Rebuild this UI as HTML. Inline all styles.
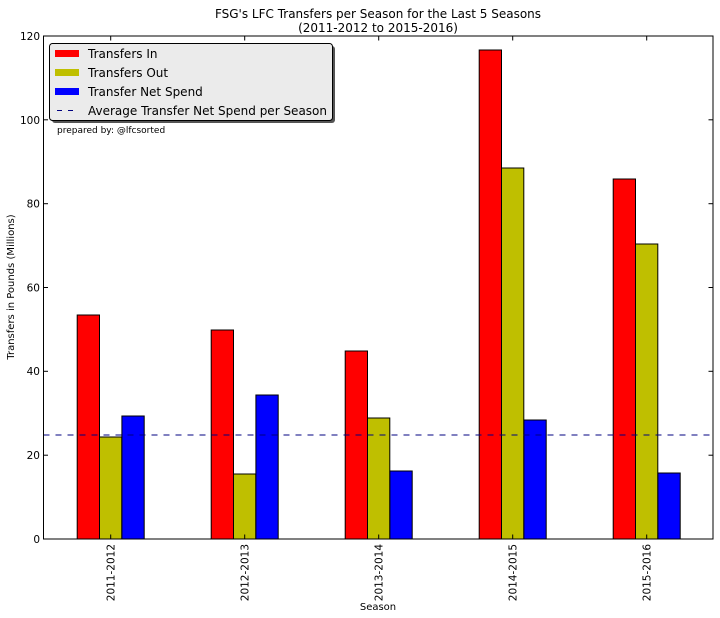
<!DOCTYPE html>
<html><head><meta charset="utf-8"><style>
body{margin:0;background:#fff;}
svg{display:block;font-family:"DejaVu Sans","Liberation Sans",sans-serif;}
</style></head><body>
<svg width="720" height="618" viewBox="0 0 720 618" xmlns="http://www.w3.org/2000/svg">
<rect width="720" height="618" fill="#fff"/>
<text x="378" y="18" font-size="12" text-anchor="middle">FSG's LFC Transfers per Season for the Last 5 Seasons</text>
<text x="378" y="32" font-size="12" text-anchor="middle">(2011-2012 to 2015-2016)</text>
<g stroke="#000" stroke-width="1">
<rect x="77.2" y="315" width="22.3" height="224" fill="#f00"/>
<rect x="99.5" y="437" width="22.3" height="102" fill="#bfbf00"/>
<rect x="121.9" y="416" width="22.3" height="123" fill="#00f"/>
<rect x="211.2" y="330" width="22.3" height="209" fill="#f00"/>
<rect x="233.5" y="474" width="22.3" height="65" fill="#bfbf00"/>
<rect x="255.9" y="395" width="22.3" height="144" fill="#00f"/>
<rect x="345.2" y="351" width="22.3" height="188" fill="#f00"/>
<rect x="367.5" y="418" width="22.3" height="121" fill="#bfbf00"/>
<rect x="389.9" y="471" width="22.3" height="68" fill="#00f"/>
<rect x="479.2" y="50" width="22.3" height="489" fill="#f00"/>
<rect x="501.5" y="168" width="22.3" height="371" fill="#bfbf00"/>
<rect x="523.9" y="420" width="22.3" height="119" fill="#00f"/>
<rect x="613.2" y="179" width="22.3" height="360" fill="#f00"/>
<rect x="635.5" y="244" width="22.3" height="295" fill="#bfbf00"/>
<rect x="657.9" y="473" width="22.3" height="66" fill="#00f"/>
</g>
<line x1="43.5" y1="435" x2="713" y2="435" stroke="#000080" stroke-width="1" stroke-dasharray="6,6"/>
<rect x="43.5" y="36" width="669.5" height="503" fill="none" stroke="#000" stroke-width="1"/>
<g stroke="#000" stroke-width="1">
<line x1="43.5" y1="455.2" x2="48" y2="455.2"/><line x1="713" y1="455.2" x2="708.5" y2="455.2"/>
<line x1="43.5" y1="371.3" x2="48" y2="371.3"/><line x1="713" y1="371.3" x2="708.5" y2="371.3"/>
<line x1="43.5" y1="287.5" x2="48" y2="287.5"/><line x1="713" y1="287.5" x2="708.5" y2="287.5"/>
<line x1="43.5" y1="203.7" x2="48" y2="203.7"/><line x1="713" y1="203.7" x2="708.5" y2="203.7"/>
<line x1="43.5" y1="119.8" x2="48" y2="119.8"/><line x1="713" y1="119.8" x2="708.5" y2="119.8"/>
<line x1="110.7" y1="539" x2="110.7" y2="534.5"/><line x1="110.7" y1="36" x2="110.7" y2="40.5"/>
<line x1="244.7" y1="539" x2="244.7" y2="534.5"/><line x1="244.7" y1="36" x2="244.7" y2="40.5"/>
<line x1="378.7" y1="539" x2="378.7" y2="534.5"/><line x1="378.7" y1="36" x2="378.7" y2="40.5"/>
<line x1="512.7" y1="539" x2="512.7" y2="534.5"/><line x1="512.7" y1="36" x2="512.7" y2="40.5"/>
<line x1="646.7" y1="539" x2="646.7" y2="534.5"/><line x1="646.7" y1="36" x2="646.7" y2="40.5"/>
</g>
<g font-size="10.5" text-anchor="end">
<text x="40" y="543">0</text><text x="40" y="459">20</text><text x="40" y="375">40</text>
<text x="40" y="291.5">60</text><text x="40" y="207.5">80</text><text x="40" y="124">100</text><text x="40" y="40">120</text>
</g>
<g font-size="10.5" text-anchor="end">
<text transform="translate(114.5,544) rotate(-90)">2011-2012</text>
<text transform="translate(248.5,544) rotate(-90)">2012-2013</text>
<text transform="translate(382.5,544) rotate(-90)">2013-2014</text>
<text transform="translate(516.5,544) rotate(-90)">2014-2015</text>
<text transform="translate(650.5,544) rotate(-90)">2015-2016</text>
</g>
<text x="378" y="610" font-size="10" text-anchor="middle">Season</text>
<text transform="translate(14,287) rotate(-90)" font-size="10" text-anchor="middle">Transfers in Pounds (Millions)</text>
<rect x="52" y="46" width="283" height="77" rx="3" fill="#555"/>
<rect x="49.5" y="43.5" width="283" height="77" rx="3" fill="#ebebeb" stroke="#000" stroke-width="1"/>
<rect x="55" y="50" width="24" height="7" fill="#f00"/>
<rect x="55" y="69" width="24" height="7" fill="#bfbf00"/>
<rect x="55" y="88" width="24" height="7" fill="#00f"/>
<line x1="57" y1="110.5" x2="79" y2="110.5" stroke="#000080" stroke-dasharray="5,6"/>
<g font-size="12">
<text x="88" y="58">Transfers In</text>
<text x="88" y="77">Transfers Out</text>
<text x="88" y="96">Transfer Net Spend</text>
<text x="88" y="115">Average Transfer Net Spend per Season</text>
</g>
<text x="57" y="133" font-size="9">prepared by: @lfcsorted</text>
</svg>
</body></html>
